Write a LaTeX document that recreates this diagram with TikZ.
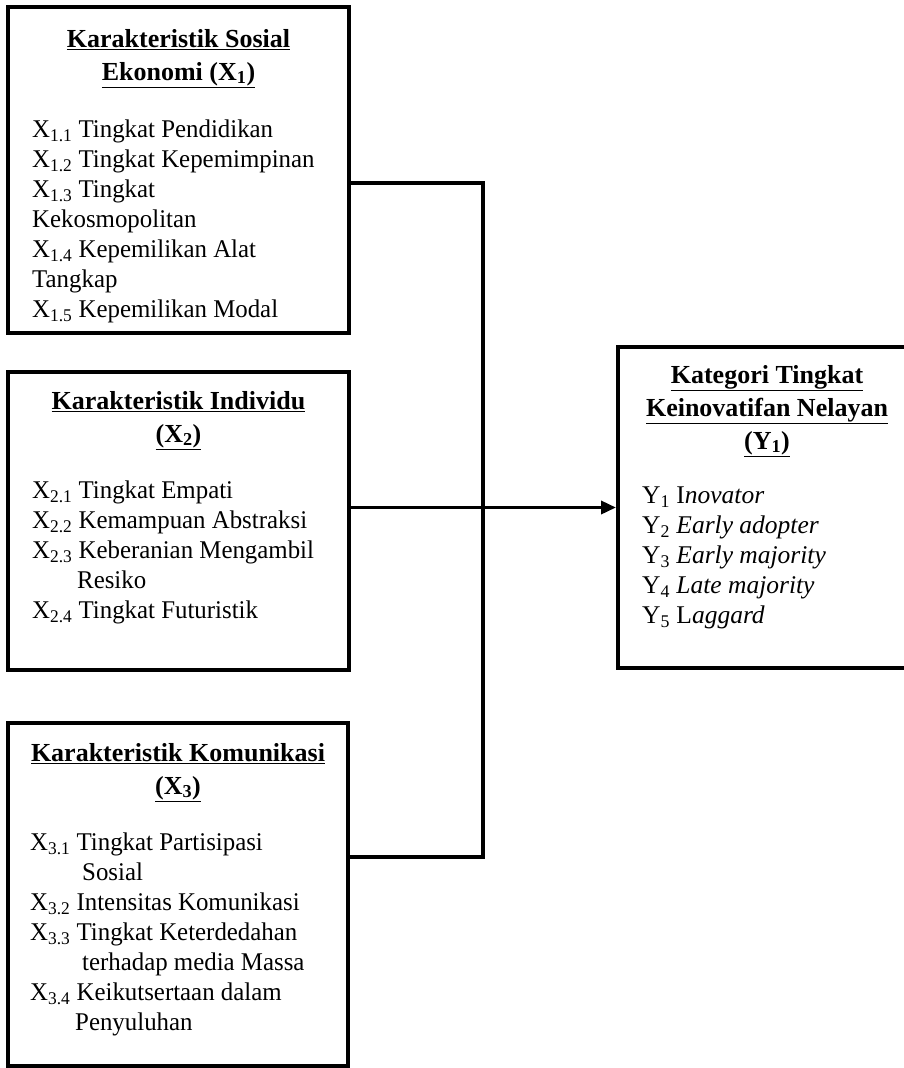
\documentclass[tikz,border=0pt]{standalone}
\usepackage{fontspec}
\setmainfont{Liberation Serif}
\newfontfamily\sempit{Liberation Serif}[FakeStretch=0.975]
\usetikzlibrary{arrows.meta}
\tikzset{
  kotak/.style={draw, line width=4pt, rectangle, inner sep=0pt},
  judul/.style={anchor=north, align=center, inner sep=0pt, font=\bfseries\fontsize{26}{33}\selectfont},
  isi/.style={anchor=north west, align=left, inner sep=0pt, font=\sempit\fontsize{25.5}{30}\selectfont},
  isikanan/.style={anchor=north west, align=left, inner sep=0pt, font=\fontsize{25.5}{30}\selectfont},
  garis/.style={line width=3.5pt},
}
\begin{document}
\begin{tikzpicture}[x=1pt,y=-1pt]
		%%%%% START %%%%%
		\useasboundingbox[fill=white] (0,0) rectangle (904,1068);
		
		\node[kotak, minimum width=341pt, minimum height=326pt] (sosial) at (178.5, 170) {};
		\node[judul] (sosialJudul) at (178.5, 29) {\underline{Karakteristik Sosial}\\\underline{Ekonomi (X\textsubscript{1})}};
		\node[isi] (sosialIsi) at (32, 120) {X\textsubscript{1.1} Tingkat Pendidikan\\X\textsubscript{1.2} Tingkat Kepemimpinan\\X\textsubscript{1.3} Tingkat\\Kekosmopolitan\\X\textsubscript{1.4} Kepemilikan Alat\\Tangkap\\X\textsubscript{1.5} Kepemilikan Modal};
		
		\node[kotak, minimum width=341pt, minimum height=298pt] (individu) at (178.5, 521) {};
		\node[judul] (individuJudul) at (178.5, 391) {\underline{Karakteristik Individu}\\\underline{(X\textsubscript{2})}};
		\node[isi] (individuIsi) at (32, 481) {X\textsubscript{2.1} Tingkat Empati\\X\textsubscript{2.2} Kemampuan Abstraksi\\X\textsubscript{2.3} Keberanian Mengambil\\\hspace*{45pt}Resiko\\X\textsubscript{2.4} Tingkat Futuristik};
		
		\node[kotak, minimum width=340pt, minimum height=343pt] (komunikasi) at (178, 894.5) {};
		\node[judul] (komunikasiJudul) at (178, 743) {\underline{Karakteristik Komunikasi}\\\underline{(X\textsubscript{3})}};
		\node[isi] (komunikasiIsi) at (30, 833) {X\textsubscript{3.1} Tingkat Partisipasi\\\hspace*{52pt}Sosial\\X\textsubscript{3.2} Intensitas Komunikasi\\X\textsubscript{3.3} Tingkat Keterdedahan\\\hspace*{52pt}terhadap media Massa\\X\textsubscript{3.4} Keikutsertaan dalam\\\hspace*{45pt}Penyuluhan};
		
		\node[kotak, minimum width=298pt, minimum height=321pt] (kategori) at (767, 507.5) {};
		\node[judul] (kategoriJudul) at (767, 365) {\underline{Kategori Tingkat}\\\underline{Keinovatifan Nelayan}\\\underline{(Y\textsubscript{1})}};
		\node[isikanan] (kategoriIsi) at (642, 487) {Y\textsubscript{1} I\textit{novator}\\Y\textsubscript{2} \textit{Early adopter}\\Y\textsubscript{3} \textit{Early majority}\\Y\textsubscript{4} \textit{Late majority}\\Y\textsubscript{5} L\textit{aggard}};
		
		\coordinate (atas) at (483, 183);
		\coordinate (bawah) at (483, 857);
		\draw[garis] (sosial.east |- atas) -- (atas) -- (bawah) -- (komunikasi.east |- bawah);
		\draw[garis, -{Triangle[length=15pt, width=13pt]}] (individu.east |- kategori.west) -- (kategori.west);
		%%%%% END %%%%%
\end{tikzpicture}
\end{document}
